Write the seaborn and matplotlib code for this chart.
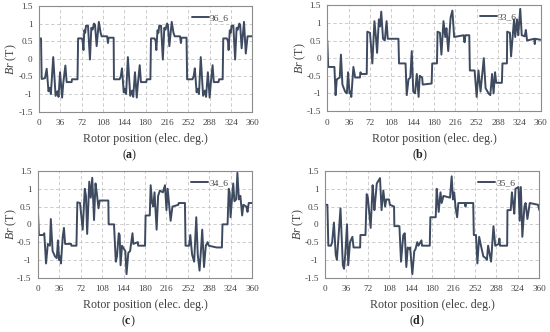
import pandas as pd
import numpy as np
import matplotlib
matplotlib.use("Agg")
import matplotlib.pyplot as plt
import seaborn as sns

sns.set_style("white")
plt.rcParams['font.family'] = ['Liberation Serif', 'DejaVu Serif']
plt.rcParams['mathtext.fontset'] = 'custom'
plt.rcParams['mathtext.rm'] = 'Liberation Serif'
plt.rcParams['mathtext.it'] = 'Liberation Serif:italic'
plt.rcParams['mathtext.bf'] = 'Liberation Serif:bold'

x_ticks = [0, 36, 72, 108, 144, 180, 216, 252, 288, 324, 360]
y_ticks = [-1.5, -1, -0.5, 0, 0.5, 1, 1.5]
y_tick_labels = ["-1.5", "-1", "-0.5", "0", "0.5", "1", "1.5"]

# (rotor position, Br)
pts_a = [(0, 0.58), (3.4, 0.58), (4.5, -0.57), (10, -0.55), (13, -0.28), (16, -0.92), (18.5, -0.82),
         (20, -1.0), (24, 0.05), (28, -1.05), (31, -0.92), (33, -1.08), (35.5, -0.38), (39, -1.1),
         (41, -0.68), (44.5, -0.19), (46.7, -0.66), (55, -0.66), (55.7, -0.58), (65, -0.58),
         (66, 0.58), (72.5, 0.58), (73.7, 0.5), (75, 0.25), (76.5, 0.81), (78, 0.74), (79.3, 0.94),
         (82.7, 0.94), (86, -0.02), (88.3, 0.88), (90.5, 0.83), (92.8, 1.0), (94.5, 0.97),
         (97.3, 0.36), (101, 1.05), (104, 0.74), (105.7, 0.64), (115, 0.64), (116.4, 0.45),
         (117.5, 0.6), (126, 0.6), (126.5, -0.58), (136, -0.58), (138, -0.5), (140, -0.27),
         (143, -0.95), (145, -0.85), (147, -1.0), (150, 0.05), (154, -1.05), (157, -0.9),
         (159, -1.08), (162, -0.38), (165, -1.1), (167, -0.68), (170, -0.18), (172, -0.66),
         (181, -0.66), (182, -0.58), (188, -0.58), (189, 0.58), (195, 0.58), (197, 0.5),
         (198, 0.25), (200, 0.81), (201.5, 0.74), (203, 0.94), (206, 0.94), (209, -0.02),
         (211.5, 0.88), (213.5, 0.83), (216, 1.0), (217.5, 0.97), (220, 0.36), (224, 1.05),
         (227, 0.74), (229, 0.64), (238, 0.64), (239.5, 0.45), (240.5, 0.6), (249, 0.6),
         (250, -0.58), (259, -0.58), (261, -0.5), (263, -0.27), (266, -0.95), (268, -0.85),
         (270, -1.0), (273, 0.05), (277, -1.05), (280, -0.9), (282, -1.08), (285, -0.38),
         (288, -1.1), (290, -0.68), (293, -0.18), (295, -0.66), (303, -0.66), (304, -0.58),
         (310, -0.58), (311, 0.58), (317, 0.58), (319, 0.5), (320, 0.25), (322, 0.81),
         (323.5, 0.74), (325, 0.94), (328, 0.94), (331, -0.02), (333.5, 0.88), (335.5, 0.83),
         (338, 1.0), (339.5, 0.97), (342, 0.3), (346, 1.05), (349, 0.15), (352, 0.64), (360, 0.64)]

pts_b = [(0, 0.5), (1.5, -0.25), (12, -0.25), (14, -1.05), (16, -0.6), (21, -0.55), (23, 0.1),
         (25.5, -0.75), (30, -0.95), (33, -1.0), (35, -0.4), (37.5, -1.0), (39, -0.95), (40.5, -1.1),
         (44, -0.25), (47, -0.55), (55, -0.55), (56, -0.4), (57, -0.45), (66.5, -0.45), (67.5, 0.75),
         (72, 0.72), (76, -0.15), (79.5, 1.05), (82, 0.6), (84, 0.15), (87, 1.1), (89, 0.9),
         (91, 1.32), (94, 0.55), (97, 0.5), (100, 1.05), (102, 0.55), (120, 0.55), (121, -0.15),
         (132, -0.15), (134, -1.05), (137, -0.6), (140, -0.55), (142.5, 0.2), (145, -0.95),
         (148, -1.0), (151, -0.45), (154, -1.1), (156, -0.5), (160, -0.55), (161, -0.75),
         (176, -0.72), (177, -0.15), (185, -0.15), (186, 0.75), (190, 0.72), (192.5, 0.1),
         (196, 1.05), (199, 0.6), (201, 0.85), (204, 0.2), (208, 1.15), (211, 1.35), (214, 0.6),
         (230, 0.65), (231.5, 0.45), (233, 0.65), (239.5, 0.65), (240.5, -0.35), (248.5, -0.35),
         (252, -1.1), (255, -0.35), (258.5, -0.95), (264, 0.0), (267, -0.85), (272, -1.0),
         (275, -1.05), (278, -0.45), (280.5, -1.0), (283, -0.4), (285, -0.7), (294.5, -0.7),
         (295.5, -0.15), (303, -0.15), (303.5, 0.75), (308, 0.72), (310, 0.05), (315, 1.1),
         (317, 0.6), (320, 1.1), (322, 0.65), (325.5, 1.4), (328, 0.65), (333, 0.62), (335, 0.8),
         (337, 0.5), (349, 0.55), (350, 0.4), (351, 0.55), (360, 0.52)]

pts_c = [(0, 0.55), (2, -0.3), (9.5, -0.3), (11, -0.25), (14, -1.1), (17, -0.55), (20.5, -0.6),
         (22, 0.15), (25, -0.75), (29, -0.9), (32, -0.95), (34, -0.45), (36, -1.0), (37.5, -0.9),
         (39, -1.1), (42, -0.35), (44, -0.1), (46, -0.55), (56, -0.55), (56.5, -0.6), (65, -0.6),
         (66.5, 0.62), (71, 0.6), (75.5, -0.15), (79, 1.0), (81, 0.8), (83, -0.27), (86.5, 1.2),
         (89, 0.75), (91.5, 1.31), (94.5, 0.12), (97, 1.15), (99, 0.9), (102, 0.45), (104, 0.67),
         (118.5, 0.67), (119, 0.0), (128, 0.0), (131, -1.05), (133, -0.9), (136, -0.25),
         (137.5, -0.3), (139, -1.15), (141.5, -0.6), (145, -0.7), (147, -0.75), (149, -1.4),
         (152, -0.8), (155, -0.75), (159, -0.25), (160.5, -0.55), (168, -0.5), (168.5, -0.6),
         (180, -0.6), (181, 0.25), (188, 0.25), (189.5, 1.1), (192, 0.6), (194, 0.5), (196, 0.9),
         (199.5, -0.15), (202, 0.8), (205, 0.95), (210, 0.9), (213.5, 1.1), (216, 0.4), (218, 1.0),
         (223, 0.1), (226, 0.5), (236, 0.55), (236.5, 0.6), (247, 0.6), (248, -0.6), (254, -0.6),
         (256, -0.3), (259, -0.85), (262.5, -1.05), (266, 0.2), (268.5, -0.85), (271.5, -1.3),
         (274, -0.7), (276, -0.15), (279, -1.2), (282, -0.6), (285, -0.5), (287, -0.6),
         (300, -0.65), (309, -0.65), (310, 0.0), (318.5, 0.0), (320.5, 1.0), (322, 0.9),
         (323.5, 0.2), (328, 1.15), (330, 0.65), (333, 0.7), (335, 1.45), (337.5, 0.7), (340, 0.8),
         (343, 0.25), (345, 0.55), (350, 0.5), (352, 0.35), (354, 0.6), (360, 0.6)]

pts_d = [(0, 0.55), (4, 0.55), (5.6, -0.6), (10, -0.6), (12, -0.5), (15, 0.05), (18, -0.85),
         (20, -1.0), (26, 0.45), (30, -1.15), (32, -1.25), (34, -0.85), (37, 0.0), (39, -1.15),
         (42, -0.5), (46, -0.35), (48, -0.65), (59, -0.65), (59.5, -0.3), (68, -0.3), (70, 0.85),
         (72, 0.75), (76.7, -0.1), (80, 1.1), (82, 0.65), (83, 0.4), (87, 1.15), (92.4, 1.3),
         (95, 0.4), (98, 0.95), (101, 0.5), (103, 0.7), (107.5, 0.7), (109, 0.55), (116, 0.5),
         (116.5, -0.05), (125, -0.05), (127.7, -1.05), (131.5, -0.3), (134, -0.25), (136.6, -1.2),
         (139, -0.65), (142, -0.7), (143, -0.65), (146.7, -1.4), (150, -0.75), (152, -0.7),
         (155, -0.5), (157, -0.6), (162, -0.45), (163, -0.6), (176, -0.6), (177, 0.2), (186, 0.2),
         (187.6, 1.0), (189, 0.75), (191, 0.35), (194, 0.9), (196, 0.6), (199, 0.8), (210, 0.75),
         (212.8, 1.35), (215, 0.7), (217, 0.9), (219.5, 0.45), (222, 0.2), (224, 0.6), (235, 0.6),
         (236, 0.5), (237, 0.6), (249, 0.6), (250, -0.3), (253.6, -0.3), (256, -1.1), (259, -0.35),
         (262, -0.6), (266, -0.9), (270, -0.95), (272, -1.0), (274, -0.6), (279, -1.05),
         (283, -0.05), (286, -0.6), (292, -0.55), (293, -0.4), (294, -0.6), (306, -0.6),
         (306.5, 0.4), (312, 0.4), (314, 0.9), (316, 0.6), (318, 0.3), (320, 1.0), (325, 1.05),
         (327, 0.1), (329, 1.05), (331.5, -0.35), (335, 0.5), (337, 0.6), (340, 0.15), (344, 0.6),
         (358, 0.55), (360, 0.4)]

names = ["36_6", "33_6", "34_6", "35_6"]
letters = ["a", "b", "c", "d"]
curves = [pts_a, pts_b, pts_c, pts_d]

W, H = 550, 332
# axes boxes in pixels: left, top, right, bottom
boxes = [(39, 6, 252.3, 111.7), (327.3, 5.3, 540.7, 111), (37.7, 171, 252.3, 277.7), (325, 171, 539.3, 277.7)]
letter_pos = [(130, 155.3), (420, 155.3), (128.3, 321.3), (416.7, 321.3)]
ylabel_x = [11.7, 300, 11, 298.5]

line_color = "#3d4a60"
text_color = "#404040"

fig = plt.figure(figsize=(W / 100, H / 100), dpi=100)
for name, letter, pts, (l, t, r, b), (lx, ly), yx in zip(names, letters, curves, boxes, letter_pos, ylabel_x):
    ax = fig.add_axes([l / W, 1 - b / H, (r - l) / W, (b - t) / H])
    df = pd.DataFrame(pts, columns=["pos", "br"])
    sns.lineplot(data=df, x="pos", y="br", sort=False, estimator=None,
                 color=line_color, lw=1.4, label=name, ax=ax)
    ax.set_xlim(0, 360)
    ax.set_ylim(-1.5, 1.5)
    ax.set_xticks(x_ticks)
    ax.set_yticks(y_ticks)
    ax.set_yticklabels(y_tick_labels)
    ax.grid(True, ls=(0, (4, 3)), color="#c4c4c4", lw=0.6)
    ax.tick_params(axis="both", length=0, labelsize=6.6, colors=text_color)
    ax.tick_params(axis="x", pad=5.5)
    ax.tick_params(axis="y", pad=4.5)
    for sp in ax.spines.values():
        sp.set_color("#8c8c8c")
        sp.set_linewidth(0.8)
    ax.set_xlabel("Rotor position (elec. deg.)", fontsize=8.6, color=text_color, va="center")
    ax.xaxis.set_label_coords(0.5, -(ly - 16 - b) / (b - t))
    ax.set_ylabel(r"$Br$ (T)", fontsize=8.6, color=text_color, va="center")
    ax.yaxis.set_label_coords((yx - l) / (r - l), 0.5)
    ax.legend(loc="center left", bbox_to_anchor=(0.715, 0.885), frameon=False,
              fontsize=6.8, handlelength=1.8, handletextpad=0.1, borderpad=0, borderaxespad=0,
              labelcolor=text_color)
    fig.text(lx / W, 1 - ly / H, r"($\mathbf{" + letter + r"}$)", ha="center", va="center",
             fontsize=8.6, color="#202020")

fig.savefig("out.png", dpi=100)
